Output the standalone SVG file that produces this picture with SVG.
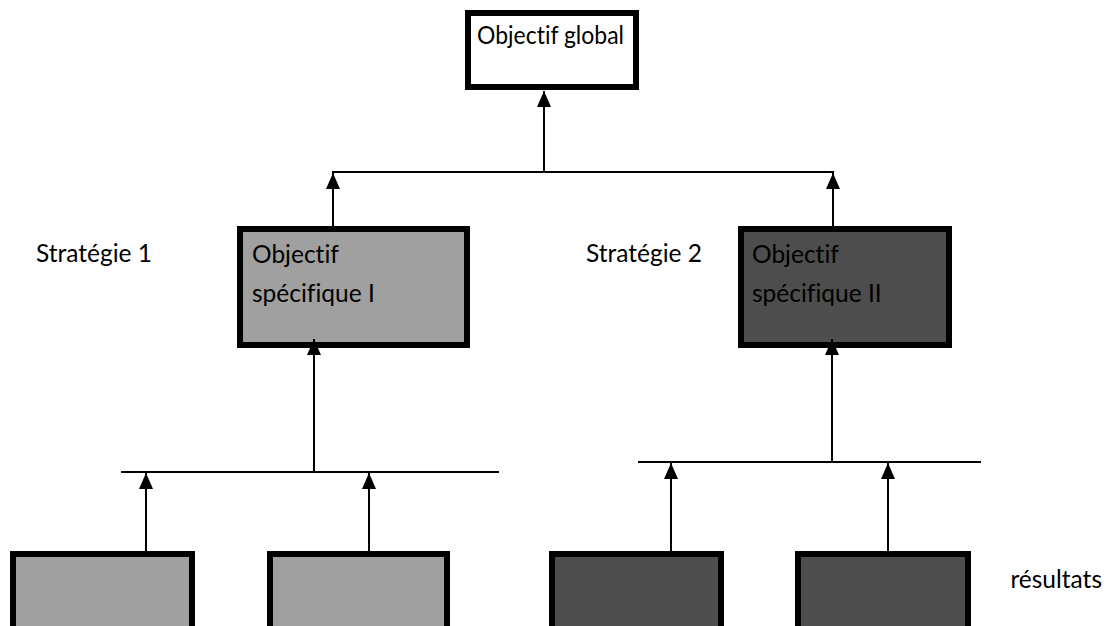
<svg xmlns="http://www.w3.org/2000/svg" width="1114" height="626" viewBox="0 0 1114 626">
<style>
.box{stroke:#000;stroke-width:6}
.white{fill:#fff}
.light{fill:#a0a0a0}
.dark{fill:#4d4d4d}
.t{font-family:Lato,"Liberation Sans",sans-serif;font-size:24.5px;fill:#000;font-variant-ligatures:none;font-feature-settings:"liga" 0,"dlig" 0}
.c line{stroke:#000;stroke-width:2}
</style>
<defs>
<marker id="ah" markerUnits="userSpaceOnUse" markerWidth="16" markerHeight="14" refX="16" refY="7" orient="auto" viewBox="0 0 16 14">
<path d="M0,0 L16,7 L0,14 Z" fill="#000"/>
</marker>
</defs>
<g id="global"><rect class="box white" x="468" y="13" width="168" height="74"/><text class="t" x="477" y="44" textLength="147" lengthAdjust="spacingAndGlyphs">Objectif global</text></g>
<g id="os1"><rect class="box light" x="240" y="229" width="227" height="116"/><text class="t" x="252" y="263">Objectif</text><text class="t" x="252" y="302">spécifique I</text></g>
<g id="os2"><rect class="box dark" x="741" y="229" width="208" height="116"/><text class="t" x="752" y="263">Objectif</text><text class="t" x="752" y="302">spécifique II</text></g>
<g id="strat1"><text class="t" x="36" y="262">Stratégie 1</text></g>
<g id="strat2"><text class="t" x="586" y="262">Stratégie 2</text></g>
<g id="r1"><rect class="box light" x="13" y="554" width="179" height="80"/></g>
<g id="r2"><rect class="box light" x="270" y="554" width="177" height="80"/></g>
<g id="r3"><rect class="box dark" x="552" y="554" width="169" height="80"/></g>
<g id="r4"><rect class="box dark" x="798" y="554" width="170" height="80"/></g>
<g id="res"><text class="t" x="1102" y="588" text-anchor="end">résultats</text></g>
<g class="c" id="connectors">
<line x1="544" y1="172" x2="544" y2="91" marker-end="url(#ah)"/>
<line x1="332" y1="172" x2="834" y2="172"/>
<line x1="333" y1="226" x2="333" y2="173" marker-end="url(#ah)"/>
<line x1="833" y1="226" x2="833" y2="173" marker-end="url(#ah)"/>
<line x1="121" y1="472" x2="499" y2="472"/>
<line x1="314" y1="472" x2="314" y2="339" marker-end="url(#ah)"/>
<line x1="146" y1="551" x2="146" y2="473" marker-end="url(#ah)"/>
<line x1="369" y1="551" x2="369" y2="473" marker-end="url(#ah)"/>
<line x1="638" y1="462" x2="981" y2="462"/>
<line x1="832" y1="462" x2="832" y2="339" marker-end="url(#ah)"/>
<line x1="671" y1="551" x2="671" y2="463" marker-end="url(#ah)"/>
<line x1="888" y1="551" x2="888" y2="463" marker-end="url(#ah)"/>
</g>
</svg>
